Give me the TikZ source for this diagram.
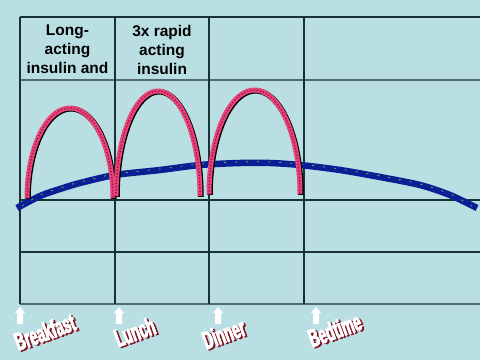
\documentclass[tikz,border=0pt]{standalone}
\usepackage{fontspec}
\setmainfont{Liberation Sans}
\newfontfamily\impactfont[FakeStretch=0.55,FakeBold=3.5,BoldFeatures={FakeStretch=0.55,FakeBold=3.5}]{Liberation Sans}
\definecolor{bg}{RGB}{186,223,227}
\definecolor{gridgrey}{RGB}{80,104,110}
\definecolor{griddark}{RGB}{25,50,52}
\definecolor{archpink}{RGB}{232,67,122}
\definecolor{archdark}{RGB}{150,20,60}
\definecolor{curveblue}{RGB}{12,30,150}
\definecolor{curvegreen}{RGB}{70,200,60}
\definecolor{shadowred}{RGB}{130,20,40}
\newcommand\mealword[1]{\makebox[0pt][l]{\hspace{1.6pt}\raisebox{-1.6pt}{\textcolor{shadowred}{#1}}}#1}
\tikzset{
  gridthin/.style={draw=griddark, line width=1.2pt},
  gridthick/.style={draw=gridgrey, line width=2.6pt},
  head/.style={font=\bfseries\fontsize{15.5}{19}\selectfont, align=center, inner sep=0pt, anchor=north},
  archshadow/.style={draw=black, line width=5.5pt, shift={(1,0.8)}},
  archline/.style={draw=archpink, line width=5pt},
  archdots/.style={draw=archdark, line width=1.8pt, line cap=round, dash pattern=on 0pt off 3.2pt},
  bluecurve/.style={draw=curveblue, line width=6.5pt},
  greenfleck/.style={draw=curvegreen, line width=0.8pt, dash pattern=on 2pt off 9pt},
  mealtext/.style={font=\impactfont\bfseries\fontsize{25}{26}\selectfont, text=white, rotate=20, inner sep=0pt},
  uparrow/.pic={\fill[white] (-3,17) -- (3,17) -- (3,6) -- (5,6) -- (0,0) -- (-5,6) -- (-3,6) -- cycle;}
}
\begin{document}
\begin{tikzpicture}[x=1pt,y=-1pt]
\fill[bg] (0,0) rectangle (480,360);
\useasboundingbox (0,0) rectangle (480,360);
% grid
\draw[gridthin] (20,17) -- (480,17);
\draw[gridthick] (20,80) -- (480,80);
\draw[gridthin] (20,200) -- (480,200);
\draw[gridthin] (20,252) -- (480,252);
\draw[gridthick] (20,304) -- (480,304);
\foreach \xx in {20,115,209,304} \draw[gridthin] (\xx,17) -- (\xx,304);
% headers
\node[head] (hLong) at (67.5,25) {Long-\\acting\\insulin and};
\node[head] (hRapid) at (162,25) {3x rapid\\acting\\insulin};
% blue curve
\draw[bluecurve] plot[smooth] coordinates {(17,208) (40,196) (60,189) (80,183) (115,175) (160,170) (200,165) (240,163) (270,163) (300,165) (340,170) (380,177) (420,185) (450,195) (477,208)};
\draw[greenfleck] plot[smooth] coordinates {(22,206) (40,195) (60,188) (80,182) (115,174) (160,169) (200,164) (240,162) (270,162) (300,164) (340,169) (380,176) (420,184) (450,194) (472,206)};
% arches
\foreach \cx/\rx/\by/\ry in {70/43/198/90, 158/42/196/105, 254.5/45.5/194/104} {
  \draw[archshadow] plot[domain=180:0, samples=60] ({\cx+\rx*cos(\x)}, {\by-\ry*sin(\x)});
  \draw[archline] plot[domain=180:0, samples=60] ({\cx+\rx*cos(\x)}, {\by-\ry*sin(\x)});
  \draw[archdots] plot[domain=180:0, samples=60] ({\cx+\rx*cos(\x)}, {\by-\ry*sin(\x)});
}
% arrows
\pic at (20,307) {uparrow};
\pic at (119,307) {uparrow};
\pic at (218,307) {uparrow};
\pic at (316,307) {uparrow};
% meal labels
\node[mealtext] (b) at (45,332.5) {\mealword{Breakfast}};
\node[mealtext] (l) at (135,332.5) {\mealword{Lunch}};
\node[mealtext] (d) at (224,334.5) {\mealword{Dinner}};
\node[mealtext] (e) at (335,330.5) {\mealword{Bedtime}};
\end{tikzpicture}
\end{document}
